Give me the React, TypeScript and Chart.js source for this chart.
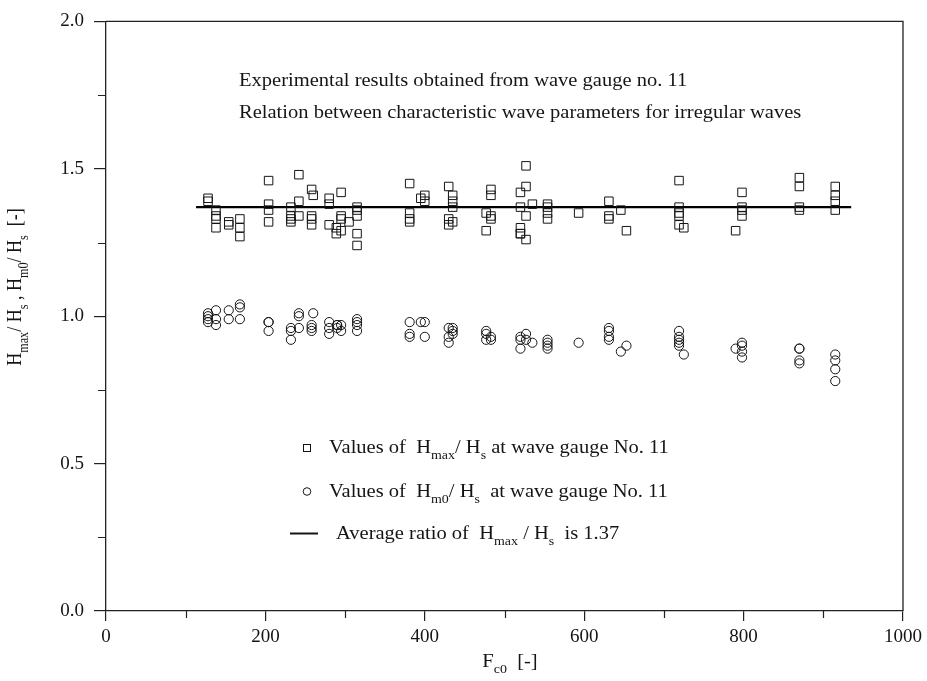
import { useEffect, useRef } from "react";
import { Chart, registerables } from "chart.js";

Chart.register(...registerables);

const SERIF = '"Liberation Serif", "Times New Roman", Times, serif';

// F_c0 and H_max / H_s (squares)
const hmaxFc0 = [
  128, 128,
  138, 138, 138, 138,
  154, 154,
  168, 168, 168,
  204, 204, 204, 204,
  232, 232, 232, 232,
  242, 242, 242,
  258, 258, 258, 258, 260,
  280, 280, 280, 289, 289,
  295, 295, 295, 295, 305,
  315, 315, 315, 315, 315,
  381, 381, 381, 381,
  395, 400, 400,
  430, 430, 430, 435, 435, 435, 435,
  477, 477, 483, 483, 483, 483,
  520, 520, 520, 520, 520,
  527, 527, 527, 527, 535,
  554, 554, 554, 554,
  593,
  631, 631, 631, 646, 653,
  719, 719, 719, 719, 719, 725,
  790, 798, 798, 798, 798,
  870, 870, 870, 870,
  915, 915, 915, 915,
];
const hmaxRatio = [
  1.40, 1.39,
  1.36, 1.33, 1.30, 1.34,
  1.32, 1.31,
  1.33, 1.30, 1.27,
  1.46, 1.38, 1.36, 1.32,
  1.37, 1.34, 1.32, 1.33,
  1.48, 1.39, 1.34,
  1.43, 1.34, 1.33, 1.31, 1.41,
  1.40, 1.38, 1.31, 1.30, 1.28,
  1.42, 1.34, 1.33, 1.29, 1.32,
  1.37, 1.36, 1.34, 1.28, 1.24,
  1.45, 1.35, 1.33, 1.32,
  1.40, 1.41, 1.39,
  1.44, 1.33, 1.31, 1.41, 1.39, 1.37, 1.32,
  1.35, 1.29, 1.43, 1.41, 1.34, 1.33,
  1.42, 1.37, 1.30, 1.28, 1.28,
  1.51, 1.44, 1.34, 1.26, 1.38,
  1.38, 1.37, 1.35, 1.33,
  1.35,
  1.39, 1.34, 1.33, 1.36, 1.29,
  1.46, 1.37, 1.35, 1.34, 1.31, 1.30,
  1.29, 1.42, 1.37, 1.36, 1.34,
  1.47, 1.44, 1.37, 1.36,
  1.44, 1.41, 1.39, 1.36,
];

// F_c0 and H_m0 / H_s (circles)
const hm0Fc0 = [
  128, 128, 128, 128,
  138, 138, 138,
  154, 154,
  168, 168, 168,
  204, 204, 204,
  232, 232, 232,
  242, 242, 242,
  258, 258, 258, 260,
  280, 280, 280,
  290, 290, 290, 295, 295,
  315, 315, 315, 315,
  381, 381, 381,
  395, 400, 400,
  430, 430, 430, 435, 435, 435,
  477, 477, 477, 483, 483,
  520, 520, 520, 527, 527, 535,
  554, 554, 554, 554,
  593,
  631, 631, 631, 631, 646, 653,
  719, 719, 719, 719, 719, 725,
  790, 798, 798, 798, 798,
  870, 870, 870, 870,
  915, 915, 915, 915,
];
const hm0Ratio = [
  1.01, 1.00, 0.99, 0.98,
  1.02, 0.99, 0.97,
  1.02, 0.99,
  1.04, 1.03, 0.99,
  0.98, 0.98, 0.95,
  0.96, 0.95, 0.92,
  1.01, 1.00, 0.96,
  0.97, 0.96, 0.95, 1.01,
  0.98, 0.96, 0.94,
  0.97, 0.97, 0.96, 0.97, 0.95,
  0.99, 0.98, 0.97, 0.95,
  0.98, 0.94, 0.93,
  0.98, 0.98, 0.93,
  0.96, 0.93, 0.91, 0.96, 0.95, 0.94,
  0.95, 0.94, 0.92, 0.93, 0.92,
  0.93, 0.92, 0.89, 0.94, 0.92, 0.91,
  0.92, 0.91, 0.90, 0.89,
  0.91,
  0.96, 0.95, 0.93, 0.92, 0.88, 0.90,
  0.95, 0.93, 0.92, 0.91, 0.90, 0.87,
  0.89, 0.91, 0.90, 0.88, 0.86,
  0.89, 0.89, 0.85, 0.84,
  0.87, 0.85, 0.82, 0.78,
];

// Mean H_max / H_s and the F_c0 span it is drawn over
const avgRatio = 1.37;
const avgFc0Span = [113, 935];

// Axis ticks
const xMinorTicks = [100, 300, 500, 700, 900];
const yMinorTicks = [0.25, 0.75, 1.25, 1.75];

const titleLines = [
  "Experimental results obtained from wave gauge no. 11",
  "Relation between characteristic wave parameters for irregular waves",
];

type Part = [string, boolean]; // [text, isSubscript]

const INK = "#151515";
const BASE = 18;
const STRETCH = 1.14;

function partsWidth(ctx: CanvasRenderingContext2D, parts: Part[], size: number) {
  let w = 0;
  for (const [t, sub] of parts) {
    ctx.font = `${sub ? size * 0.68 : size}px ${SERIF}`;
    w += ctx.measureText(t).width;
  }
  return w;
}

function drawParts(ctx: CanvasRenderingContext2D, parts: Part[], size: number) {
  let x = 0;
  ctx.textBaseline = "alphabetic";
  ctx.textAlign = "left";
  for (const [t, sub] of parts) {
    ctx.font = `${sub ? size * 0.68 : size}px ${SERIF}`;
    ctx.fillText(t, x, sub ? size * 0.36 : 0);
    x += ctx.measureText(t).width;
  }
}

function textAt(
  ctx: CanvasRenderingContext2D,
  parts: Part[],
  x: number,
  y: number,
  centered = false
) {
  ctx.save();
  ctx.fillStyle = INK;
  const w = partsWidth(ctx, parts, BASE) * STRETCH;
  ctx.translate(centered ? x - w / 2 : x, y);
  ctx.scale(STRETCH, 1);
  drawParts(ctx, parts, BASE);
  ctx.restore();
}

const annotations = {
  id: "annotations",
  afterDraw(chart: any) {
    const { ctx, chartArea } = chart;
    const xs = chart.scales.x;
    const ys = chart.scales.y;

    ctx.save();
    // frame: top and right edges
    ctx.strokeStyle = "#222";
    ctx.lineWidth = 1.3;
    ctx.beginPath();
    ctx.moveTo(chartArea.left, chartArea.top);
    ctx.lineTo(chartArea.right, chartArea.top);
    ctx.lineTo(chartArea.right, chartArea.bottom);
    ctx.stroke();

    // minor ticks
    ctx.lineWidth = 1.2;
    ctx.beginPath();
    for (const v of xMinorTicks) {
      const px = Math.round(xs.getPixelForValue(v)) + 0.5;
      ctx.moveTo(px, chartArea.bottom);
      ctx.lineTo(px, chartArea.bottom + 7);
    }
    for (const v of yMinorTicks) {
      const py = Math.round(ys.getPixelForValue(v)) + 0.5;
      ctx.moveTo(chartArea.left, py);
      ctx.lineTo(chartArea.left - 8, py);
    }
    ctx.stroke();
    ctx.restore();

    // header lines
    textAt(ctx, [[titleLines[0], false]], 239, 86);
    textAt(ctx, [[titleLines[1], false]], 239, 118);

    // key
    ctx.save();
    ctx.strokeStyle = INK;
    ctx.lineWidth = 1;
    ctx.strokeRect(303.5, 444.5, 7, 7);
    ctx.beginPath();
    ctx.arc(307, 491.5, 3.8, 0, Math.PI * 2);
    ctx.stroke();
    ctx.lineWidth = 2;
    ctx.beginPath();
    ctx.moveTo(290, 533.5);
    ctx.lineTo(318, 533.5);
    ctx.stroke();
    ctx.restore();

    textAt(
      ctx,
      [
        ["Values of  H", false],
        ["max", true],
        ["/ H", false],
        ["s", true],
        [" at wave gauge No. 11", false],
      ],
      329,
      453
    );
    textAt(
      ctx,
      [
        ["Values of  H", false],
        ["m0", true],
        ["/ H", false],
        ["s", true],
        ["  at wave gauge No. 11", false],
      ],
      329,
      497
    );
    textAt(
      ctx,
      [
        ["Average ratio of  H", false],
        ["max", true],
        [" / H", false],
        ["s", true],
        [`  is ${avgRatio.toFixed(2)}`, false],
      ],
      336,
      539
    );

    // x-axis title
    textAt(ctx, [["F", false], ["c0", true], ["  [-]", false]], 510, 667, true);

    // y-axis title (rotated)
    const yParts: Part[] = [
      ["H", false],
      ["max", true],
      ["/ H", false],
      ["s", true],
      [" , H", false],
      ["m0", true],
      ["/ H", false],
      ["s", true],
      ["  [-]", false],
    ];
    ctx.save();
    ctx.fillStyle = INK;
    const w = partsWidth(ctx, yParts, BASE);
    ctx.translate(21, 287);
    ctx.rotate(-Math.PI / 2);
    ctx.scale(1, STRETCH);
    ctx.translate(-w / 2, 0);
    drawParts(ctx, yParts, BASE);
    ctx.restore();
  },
};

export default function App() {
  const canvasRef = useRef<HTMLCanvasElement | null>(null);

  useEffect(() => {
    const canvas = canvasRef.current;
    if (!canvas) return;

    const squares = hmaxFc0.map((x, i) => ({ x, y: hmaxRatio[i] }));
    const circles = hm0Fc0.map((x, i) => ({ x, y: hm0Ratio[i] }));
    const avgLine = avgFc0Span.map((x) => ({ x, y: avgRatio }));

    const axisFont = { family: SERIF, size: 19 };

    const chart = new Chart(canvas, {
      type: "scatter",
      data: {
        datasets: [
          {
            label: "Hmax/Hs",
            data: squares,
            pointStyle: "rect",
            pointRadius: 6,
            borderColor: INK,
            borderWidth: 1,
            backgroundColor: "rgba(0,0,0,0)",
          },
          {
            label: "Hm0/Hs",
            data: circles,
            pointStyle: "circle",
            pointRadius: 4.6,
            borderColor: INK,
            borderWidth: 1,
            backgroundColor: "rgba(0,0,0,0)",
          },
          {
            type: "line",
            label: "Average",
            data: avgLine,
            borderColor: "#000",
            borderWidth: 2.2,
            pointRadius: 0,
            fill: false,
          } as any,
        ],
      },
      options: {
        responsive: false,
        animation: false,
        events: [],
        layout: { padding: { top: 14, right: 22, left: 0, bottom: 0 } },
        plugins: {
          legend: { display: false },
          tooltip: { enabled: false },
        },
        scales: {
          x: {
            type: "linear",
            min: 0,
            max: 1000,
            ticks: {
              stepSize: 200,
              font: axisFont,
              color: INK,
              padding: 5,
              maxRotation: 0,
              callback: (v: any) => String(v),
            },
            grid: {
              drawOnChartArea: false,
              drawTicks: true,
              tickLength: 10,
              color: "#222",
              lineWidth: 1.2,
            },
            border: { display: true, color: "#222", width: 1.3 },
            afterFit: (s: any) => {
              s.height = 70;
            },
          },
          y: {
            type: "linear",
            min: 0,
            max: 2,
            ticks: {
              stepSize: 0.5,
              font: axisFont,
              color: INK,
              padding: 10,
              callback: (v: any) => Number(v).toFixed(1),
            },
            grid: {
              drawOnChartArea: false,
              drawTicks: true,
              tickLength: 12,
              color: "#222",
              lineWidth: 1.2,
            },
            border: { display: true, color: "#222", width: 1.3 },
            afterFit: (s: any) => {
              s.width = 106;
            },
          },
        },
      },
      plugins: [annotations],
    });

    return () => chart.destroy();
  }, []);

  return (
    <div style={{ position: "absolute", left: 0, top: 0, width: 927, height: 681, background: "#fff" }}>
      <canvas ref={canvasRef} width={927} height={681} />
    </div>
  );
}
